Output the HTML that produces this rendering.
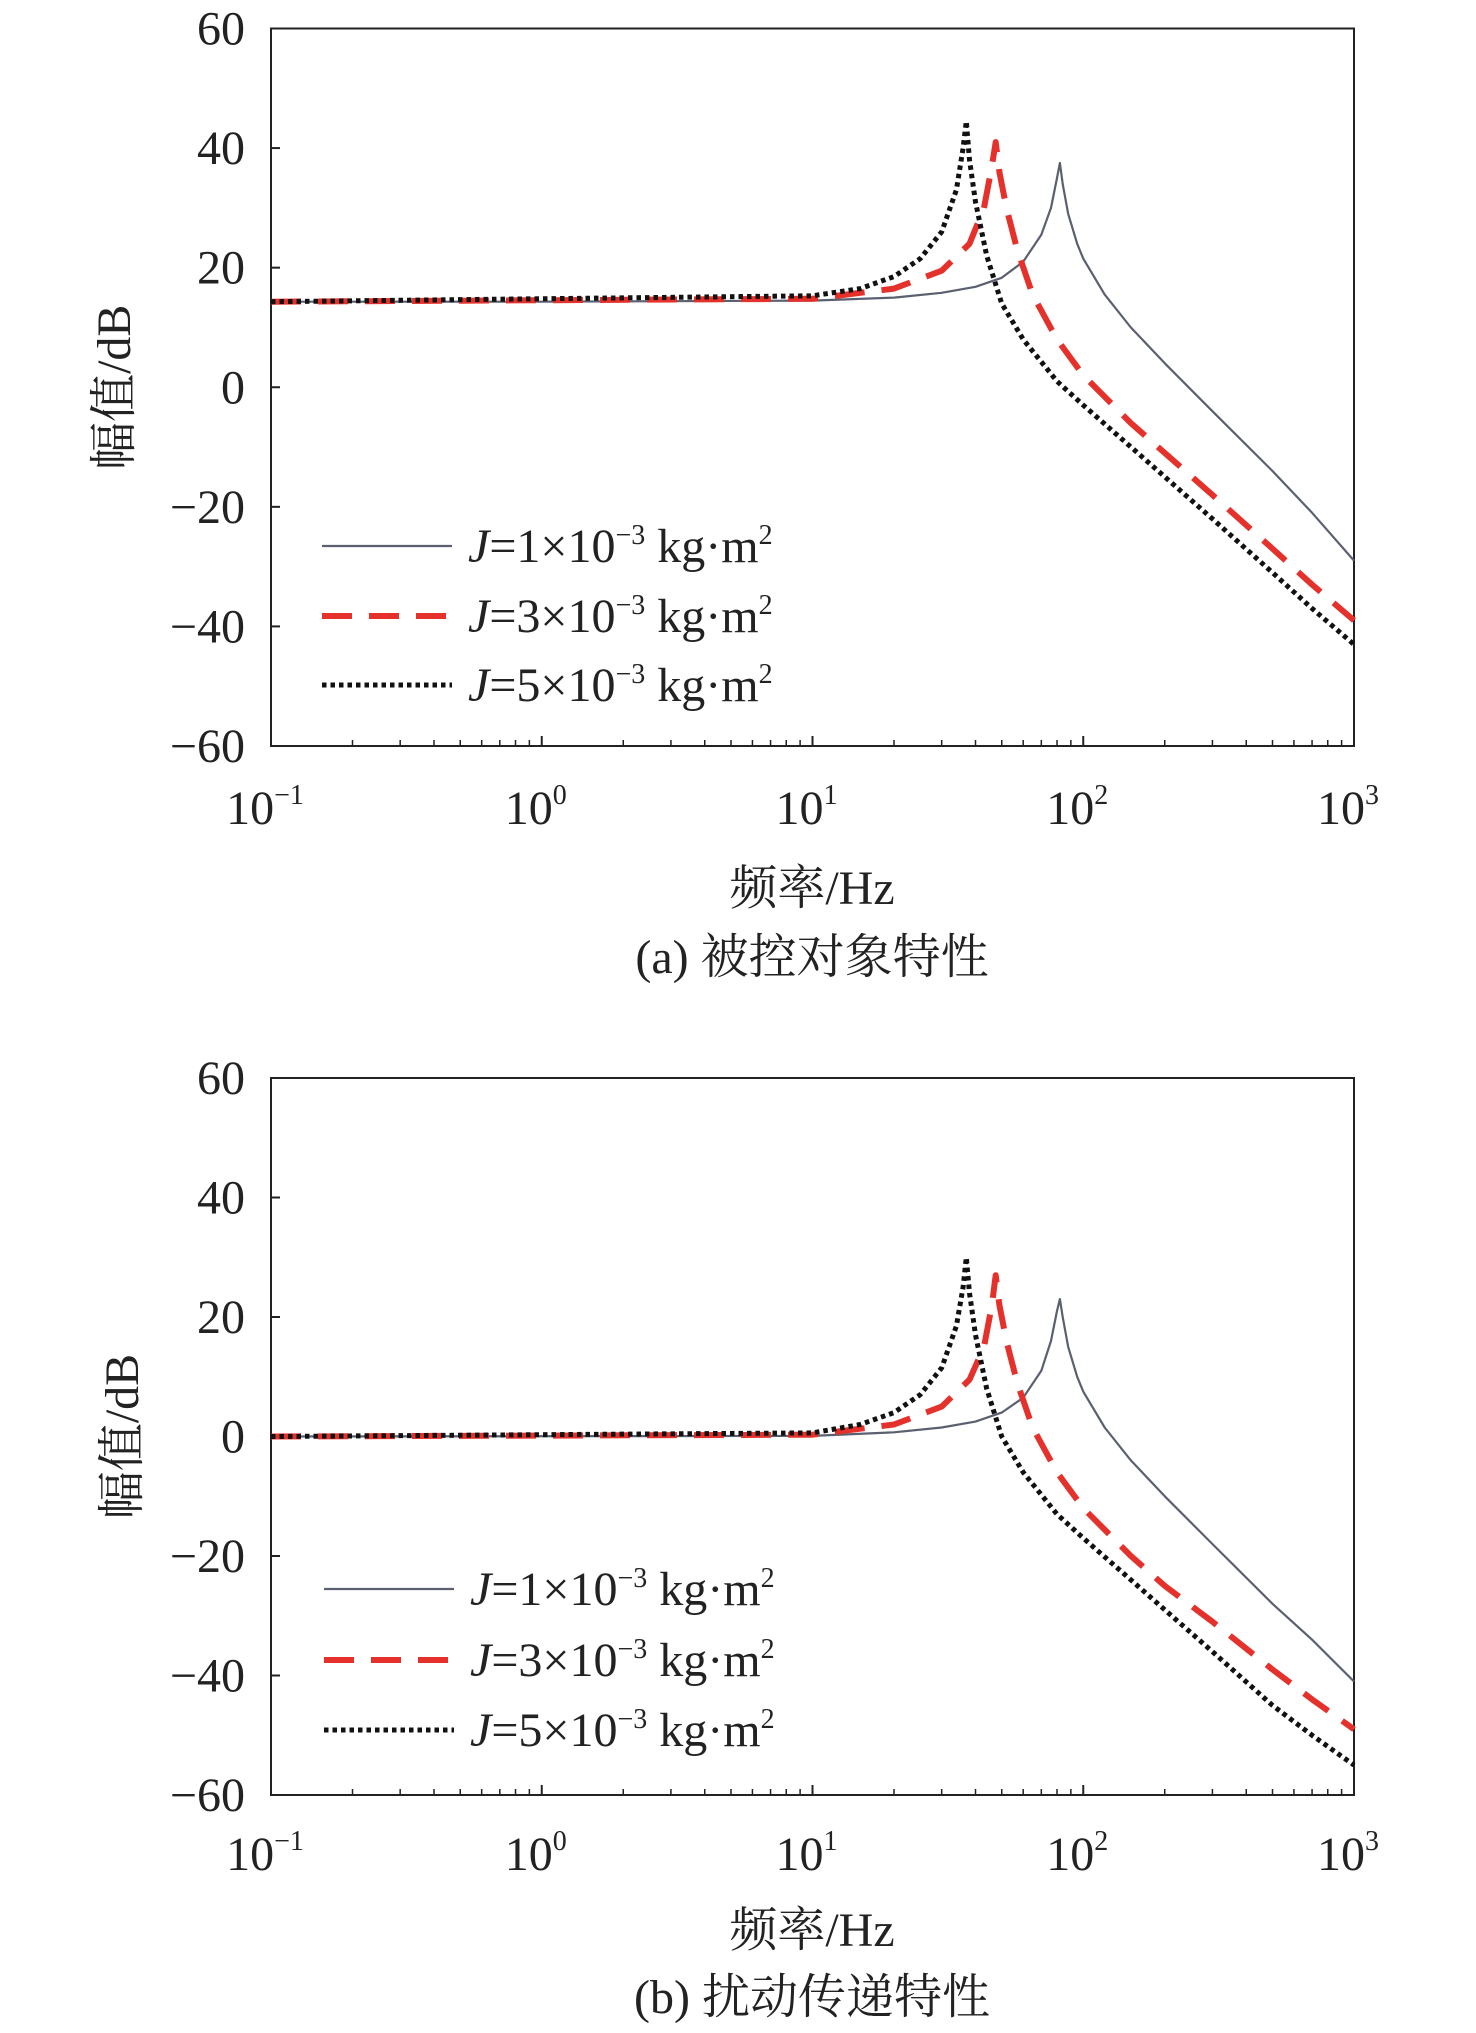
<!DOCTYPE html>
<html><head><meta charset="utf-8">
<style>
html,body{margin:0;padding:0;background:#fff;}
svg{display:block;}
text{font-family:"Liberation Serif","Noto Serif CJK SC",serif;fill:#222;}
</style></head>
<body>
<svg id="fig" width="1476" height="2033" viewBox="0 0 1476 2033"></svg>
<script>
// ---- data ----
const xTickExps = [-1, 0, 1, 2, 3];
const yTickValues = [60, 40, 20, 0, -20, -40, -60];
const legendLabels = ["1", "3", "5"];
// Panel (a) plant characteristic: [frequency Hz, dB]
const a_J1 = [[0.1,14.3],[1,14.3],[10,14.5],[20,15],[30,15.8],[40,16.8],[50,18.3],[60,21],[70,25.5],[76,30],[80,35],[82,37.5],[84,34],[88,29],[95,24],[100,21.5],[120,15.5],[150,10],[200,4],[300,-4],[500,-14],[700,-21],[1000,-29]];
const a_J3 = [[0.1,14.3],[10,14.8],[20,16.5],[30,19.5],[38,24],[43,30],[46,37],[47.5,41],[49,36],[52,30],[57,23],[65,15.5],[80,8],[100,2],[150,-6],[200,-11],[300,-18],[500,-27],[700,-33],[1000,-39]];
const a_J5 = [[0.1,14.3],[10,15.3],[15,16.5],[20,18.5],[25,21.5],[30,26],[34,33],[36,40],[37,44.5],[38,38],[40,31],[44,22],[50,14],[60,8],[80,1],[100,-3],[150,-10],[200,-15],[300,-22],[500,-31],[700,-37],[1000,-43]];
// Panel (b) disturbance transfer characteristic
const b_J1 = [[0.1,0],[10,0.1],[20,0.7],[30,1.5],[40,2.5],[50,4],[60,6.5],[70,11],[76,16],[80,21],[82,23],[84,20],[88,15],[95,10],[100,7.5],[120,1.5],[150,-4],[200,-10],[300,-18],[500,-28],[700,-34],[1000,-41]];
const b_J3 = [[0.1,0],[10,0.3],[20,2],[30,5],[38,9.5],[43,15],[46,22],[47.5,27],[49,22],[52,16],[57,9],[65,1.5],[80,-6],[100,-12],[150,-20],[200,-25],[300,-31],[500,-39],[700,-44],[1000,-49]];
const b_J5 = [[0.1,0],[10,0.6],[15,2],[20,4],[25,7],[30,11.5],[34,18.5],[36,25],[37,30],[38,24],[40,17],[44,8],[50,0],[60,-6],[80,-13],[100,-17],[150,-24],[200,-29],[300,-36],[500,-45],[700,-50],[1000,-55]];

const NS = "http://www.w3.org/2000/svg";
const svg = document.getElementById("fig");
function mk(tag, attrs, parent, txt){
  const e = document.createElementNS(NS, tag);
  for (const k in attrs) e.setAttribute(k, attrs[k]);
  if (txt !== undefined) e.textContent = txt;
  (parent || svg).appendChild(e);
  return e;
}
const styles = [
  {stroke:"#5b6070", w:2.2, dash:""},
  {stroke:"#e5312b", w:6, dash:"30 17"},
  {stroke:"#111", w:5, dash:"4.5 4"}
];

function panel(id, top, bottom, series, legendX, legendYs, xLabelY, axisLabelY, caption, captionY, yLabelX){
  const L = 271, R = 1354;
  const g = mk("g", {});
  
  
  const xs = f => L + (R - L) * (Math.log10(f) + 1) / 4;
  const ys = v => top + (bottom - top) * (60 - v) / 120;
  // frame
  const fr = mk("rect", {x:L, y:top, width:R-L, height:bottom-top, fill:"none", stroke:"#222", "stroke-width":2}, g);
  
  
  // y ticks
  yTickValues.forEach(v => {
    const y = ys(v);
    mk("line", {x1:L, x2:L+9, y1:y, y2:y, stroke:"#222", "stroke-width":2}, g);
    const t = mk("text", {x:L-26, y:y+16, "font-size":48, "text-anchor":"end"}, g, v < 0 ? "\u2212" + (-v) : String(v));
    
    
  });
  // x ticks
  xTickExps.forEach((e, i) => {
    const x = xs(Math.pow(10, e));
    mk("line", {x1:x, x2:x, y1:bottom, y2:bottom-10, stroke:"#222", "stroke-width":2}, g);
    if (i < xTickExps.length - 1) {
      for (let m = 2; m <= 9; m++) {
        const xm = xs(m * Math.pow(10, e));
        mk("line", {x1:xm, x2:xm, y1:bottom, y2:bottom-6, stroke:"#222", "stroke-width":1.5}, g);
      }
    }
    const t = mk("text", {x:x-6, y:xLabelY, "font-size":48, "text-anchor":"middle"}, g);
    
    
    mk("tspan", {}, t, "10");
    mk("tspan", {dy:-20, "font-size":28}, t, e < 0 ? "\u2212" + (-e) : String(e));
  });
  // series
  series.forEach((s, i) => {
    const d = s.map((p, k) => (k ? "L" : "M") + xs(p[0]).toFixed(1) + " " + ys(p[1]).toFixed(1)).join(" ");
    const p = mk("path", {d:d, fill:"none", stroke:styles[i].stroke, "stroke-width":styles[i].w, "stroke-dasharray":styles[i].dash, "stroke-linejoin":"round"}, g);
    
    
  });
  // legend
  legendLabels.forEach((lab, i) => {
    const y = legendYs[i];
    const le = mk("g", {}, g);
    
    
    mk("line", {x1:legendX, x2:legendX+130, y1:y, y2:y, stroke:styles[i].stroke, "stroke-width":styles[i].w, "stroke-dasharray":styles[i].dash}, le);
    const t = mk("text", {x:legendX+146, y:y+16, "font-size":48}, le);
    mk("tspan", {"font-style":"italic"}, t, "J");
    mk("tspan", {}, t, "=" + lab + "\u00d710");
    mk("tspan", {dy:-18, "font-size":28}, t, "\u22123");
    mk("tspan", {dy:18}, t, " kg\u00b7m");
    mk("tspan", {dy:-18, "font-size":28}, t, "2");
  });
  // axis labels
  const xl = mk("text", {x:812, y:axisLabelY, "font-size":48, "text-anchor":"middle"}, g, "频率/Hz");
  
  
  const cy = (top + bottom) / 2;
  const yl = mk("text", {x:yLabelX, y:cy, "font-size":48, "text-anchor":"middle", transform:"rotate(-90 " + yLabelX + " " + cy + ")"}, g, "幅值/dB");
  
  
  const cp = mk("text", {x:812, y:captionY, "font-size":48, "text-anchor":"middle"}, g, caption);
  
  
}

panel("panel-a-plant", 28.5, 746, [a_J1, a_J3, a_J5], 322, [546, 616, 685], 824, 904, "(a) 被控对象特性", 973, 130);
panel("panel-b-disturbance", 1078, 1795, [b_J1, b_J3, b_J5], 324, [1589, 1660, 1730], 1870, 1946, "(b) 扰动传递特性", 2013, 138);
</script>
</body></html>
